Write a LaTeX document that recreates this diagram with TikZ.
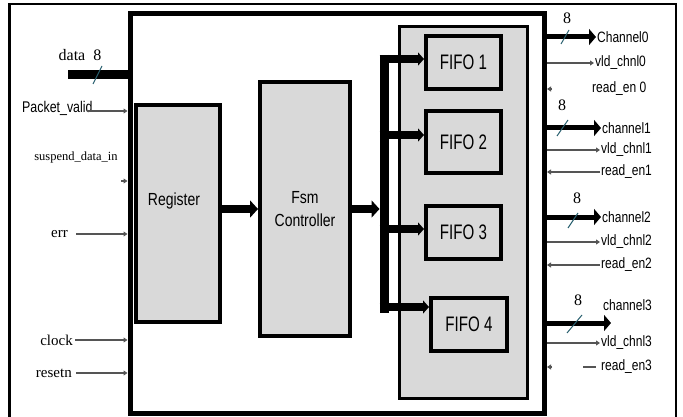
\documentclass[tikz,border=0pt]{standalone}
\usepackage{fontspec}
\setmainfont{Liberation Serif}
\newfontfamily\narrowsf[FakeStretch=0.8]{Liberation Sans}
\newfontfamily\fifosf[FakeStretch=0.72]{Liberation Sans}
\usetikzlibrary{arrows.meta}

\definecolor{boxgray}{RGB}{217,217,217}
\definecolor{wiregray}{RGB}{85,85,85}
\definecolor{slashteal}{RGB}{40,95,110}

\tikzset{
  blk/.style={draw, fill=boxgray, line width=4pt, inner sep=0pt, anchor=north west},
  fifo/.style={blk, minimum width=75pt, minimum height=53pt, font=\fifosf\fontsize{21}{21}\selectfont},
  inlbl/.style={inner sep=1pt, font=\fontsize{15}{15}\selectfont},
  outlbl/.style={inner sep=1pt, anchor=west, font=\narrowsf\fontsize{15}{15}\selectfont},
  numlbl/.style={inner sep=0pt, font=\fontsize{16}{16}\selectfont},
  wire/.style={wiregray, line width=1.4pt},
  sigarrow/.style={wire, -{Triangle[length=4pt,width=5pt]}},
  thickarrow/.style={line width=8pt, -{Triangle[length=8pt,width=17pt]}},
  branch/.style={line width=8pt, -{Triangle[length=6pt,width=13pt]}},
  chanarrow/.style={line width=5pt, -{Triangle[length=7pt,width=16pt]}},
  slash/.style={slashteal, line width=1pt}
}

\begin{document}
\begin{tikzpicture}[x=1pt, y=-1pt]
  \useasboundingbox (0,0) rectangle (683,417);
  \draw[line width=2.5pt] (9.5,4) rectangle (676,425);

  % router top block
  \node[draw, line width=5pt, inner sep=0pt, anchor=north west,
        minimum width=414.5pt, minimum height=399pt] (chip) at (127.5,11.5) {};

  \node[blk, minimum width=84pt, minimum height=217pt] (reg) at (134,103) {};
  \node[font=\narrowsf\fontsize{17.5}{21}\selectfont] (reg-text) at ([yshift=13pt,xshift=-4pt]reg.center) {Register};
  \node[blk, minimum width=90pt, minimum height=254pt, align=center,
        font=\narrowsf\fontsize{17.5}{23}\selectfont] (fsm) at (258,80) {Fsm\\Controller};

  \node[draw, fill=boxgray, line width=3pt, inner sep=0pt, anchor=north west,
        minimum width=128pt, minimum height=371pt] (bank) at (397.5,25.5) {};
  \node[fifo] (f1) at (424,34) {FIFO 1};
  \node[fifo, minimum height=62pt] (f2) at (424,109) {FIFO 2};
  \node[fifo] (f3) at (424,204) {FIFO 3};
  \node[fifo, minimum width=76pt] (f4) at (429,296) {FIFO 4};

  % bus to the fifos
  \coordinate (bus-top) at (384,55);
  \coordinate (bus-bot) at (384,313);
  \draw[line width=9pt] (bus-top) -- (bus-bot);
  \foreach \f/\y in {f1/59, f2/135, f3/229, f4/307}
    \draw[branch] (379.5,\y) -- (\f.west |- 0,\y);
  \draw[thickarrow] (reg.east |- fsm.east) -- (fsm.west);
  \draw[thickarrow] (fsm.east) -- ([xshift=-4.5pt]fsm.east -| bus-top);

  % inputs
  \node[inlbl, font=\fontsize{16}{16}\selectfont] (data) at (80,55) {data\ \ 8};
  \coordinate (din) at (68,75);
  \draw[line width=9pt] (din) -- (din -| chip.west);
  \draw[slash] (93,84) -- (102,66);
  \node[inner sep=1pt, anchor=west, font=\narrowsf\fontsize{15.5}{15}\selectfont] (pkt) at (21,108) {Packet\_valid};
  \coordinate (pkt-in) at (87,111);
  \draw[sigarrow] (pkt-in) -- (pkt-in -| chip.west);
  \node[inlbl, font=\fontsize{12.5}{12}\selectfont] (susp) at (76,157) {suspend\_data\_in};
  \coordinate (susp-in) at (121,181);
  \draw[sigarrow] (susp-in) -- (susp-in -| chip.west);
  \node[inlbl, anchor=east] (err) at (69,234) {err};
  \draw[wire, -{Triangle[length=4pt,width=5pt]}] ([xshift=7pt]err.east) -- (err -| chip.west);
  \node[inlbl, anchor=east] (clk) at (74,340) {clock};
  \draw[sigarrow] ([xshift=1pt]clk.east) -- (clk -| chip.west);
  \node[inlbl, anchor=east] (rst) at (73,373) {resetn};
  \draw[sigarrow] ([xshift=3pt]rst.east) -- (rst -| chip.west);

  % outputs
  \node[numlbl] (w0) at (567,18) {8};
  \node[outlbl] (ch0) at (596,37) {Channel0};
  \draw[chanarrow] (ch0 -| chip.east) -- (ch0.west);
  \draw[slash] (561,44) -- (569,30);
  \node[outlbl] (vld0) at (594,63) {vld\_chnl0};
  \draw[sigarrow] (vld0 -| chip.east) -- (vld0.west);
  \node[outlbl] (rd0) at (591,89) {read\_en 0};
  \draw[sigarrow] ([xshift=5pt]rd0 -| chip.east) -- (rd0 -| chip.east);

  \node[numlbl] (w1) at (562,105) {8};
  \node[outlbl] (ch1) at (601,128) {channel1};
  \draw[chanarrow] (ch1 -| chip.east) -- (ch1.west);
  \draw[slash] (557,136) -- (568,120);
  \node[outlbl] (vld1) at (600,150) {vld\_chnl1};
  \draw[sigarrow] (vld1 -| chip.east) -- (vld1.west);
  \node[outlbl] (rd1) at (600,172) {read\_en1};
  \draw[sigarrow] (rd1.west) -- (rd1 -| chip.east);

  \node[numlbl] (w2) at (577,198) {8};
  \node[outlbl] (ch2) at (601,217) {channel2};
  \draw[chanarrow] (ch2 -| chip.east) -- (ch2.west);
  \draw[slash] (568,228) -- (578,213);
  \node[outlbl] (vld2) at (600,242) {vld\_chnl2};
  \draw[sigarrow] (vld2 -| chip.east) -- (vld2.west);
  \node[outlbl] (rd2) at (600,265) {read\_en2};
  \draw[sigarrow] (rd2.west) -- (rd2 -| chip.east);

  \node[numlbl] (w3) at (578,300) {8};
  \node[outlbl] (ch3) at (602,305) {channel3};
  \coordinate (ch3-end) at (611,323);
  \draw[chanarrow] (ch3-end -| chip.east) -- (ch3-end);
  \draw[slash] (567,333) -- (582,315);
  \node[outlbl] (vld3) at (600,343) {vld\_chnl3};
  \draw[sigarrow] (vld3 -| chip.east) -- (vld3.west);
  \node[outlbl] (rd3) at (600,367) {read\_en3};
  \draw[wire] ([xshift=-17pt]rd3.west) -- ([xshift=-4pt]rd3.west);
  \draw[sigarrow] ([xshift=5pt]rd3 -| chip.east) -- (rd3 -| chip.east);
\end{tikzpicture}
\end{document}
